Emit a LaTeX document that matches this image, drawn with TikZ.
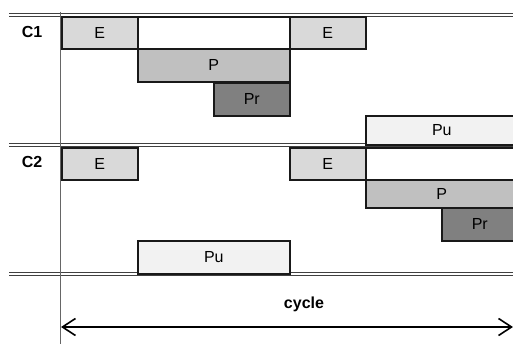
\documentclass[tikz,border=0pt]{standalone}
\usepackage{fontspec}
\setmainfont{Liberation Sans}
\usetikzlibrary{arrows.meta}
\definecolor{cE}{HTML}{D9D9D9}
\definecolor{cP}{HTML}{C0C0C0}
\definecolor{cPr}{HTML}{808080}
\definecolor{cPu}{HTML}{F2F2F2}
\begin{document}
\begin{tikzpicture}[x=1pt,y=-1pt,
  box/.style={draw=black!90, line width=1.6pt, anchor=north west, inner sep=0pt,
    minimum height=32, font=\fontsize{16}{18}\selectfont},
  wide/.style={minimum width=152},
  narrow/.style={minimum width=76},
  rowlab/.style={font=\fontsize{16}{18}\selectfont\bfseries},
  sepline/.style={double=white, draw=black!75, double distance=1.6pt, line width=1pt},
]
\useasboundingbox (0,0) rectangle (513,344);
\clip (0,0) rectangle (513,344);
% separator lines
\coordinate (t0) at (9,15); \coordinate (t1) at (520,15);
\coordinate (m0) at (9,145); \coordinate (m1) at (520,145);
\coordinate (b0) at (9,274); \coordinate (b1) at (520,274);
\draw[sepline] (t0) -- (t1);
\draw[sepline] (m0) -- (m1);
\draw[sepline] (b0) -- (b1);
% vertical axis
\coordinate (v0) at (60.5,12); \coordinate (v1) at (60.5,350);
\draw[black!60, line width=1pt] (v0) -- (v1);
% row labels
\node[rowlab] (c1) at (32,32) {C1};
\node[rowlab] (c2) at (32,162) {C2};
% C1 row
\node[box, narrow, fill=cE] (c1e1) at (61,16) {E};
\node[box, wide, fill=white] (c1w) at (137,16) {};
\node[box, narrow, fill=cE] (c1e2) at (289,16) {E};
\node[box, wide, fill=cP, minimum height=33] (c1p) at (137,48) {P};
\node[box, narrow, fill=cPr, minimum height=33] (c1pr) at (213,82) {Pr};
\node[box, wide, fill=cPu, minimum height=29] (c1pu) at (365,115) {Pu};
% C2 row
\node[box, narrow, fill=cE] (c2e1) at (61,147) {E};
\node[box, narrow, fill=cE] (c2e2) at (289,147) {E};
\node[box, wide, fill=white] (c2w) at (365,147) {};
\node[box, wide, fill=cP, minimum height=28] (c2p) at (365,179) {P};
\node[box, narrow, fill=cPr, minimum height=33] (c2pr) at (441,207) {Pr};
\node[box, wide, fill=cPu, minimum height=33] (c2pu) at (137,240) {Pu};
% cycle
\node[rowlab] (cyc) at (304,304) {cycle};
\coordinate (a0) at (61,327); \coordinate (a1) at (513,327);
\draw[line width=1.6pt, {Straight Barb[length=13pt,width=17pt]}-{Straight Barb[length=13pt,width=17pt]}] (a0) -- (a1);
\end{tikzpicture}
\end{document}
